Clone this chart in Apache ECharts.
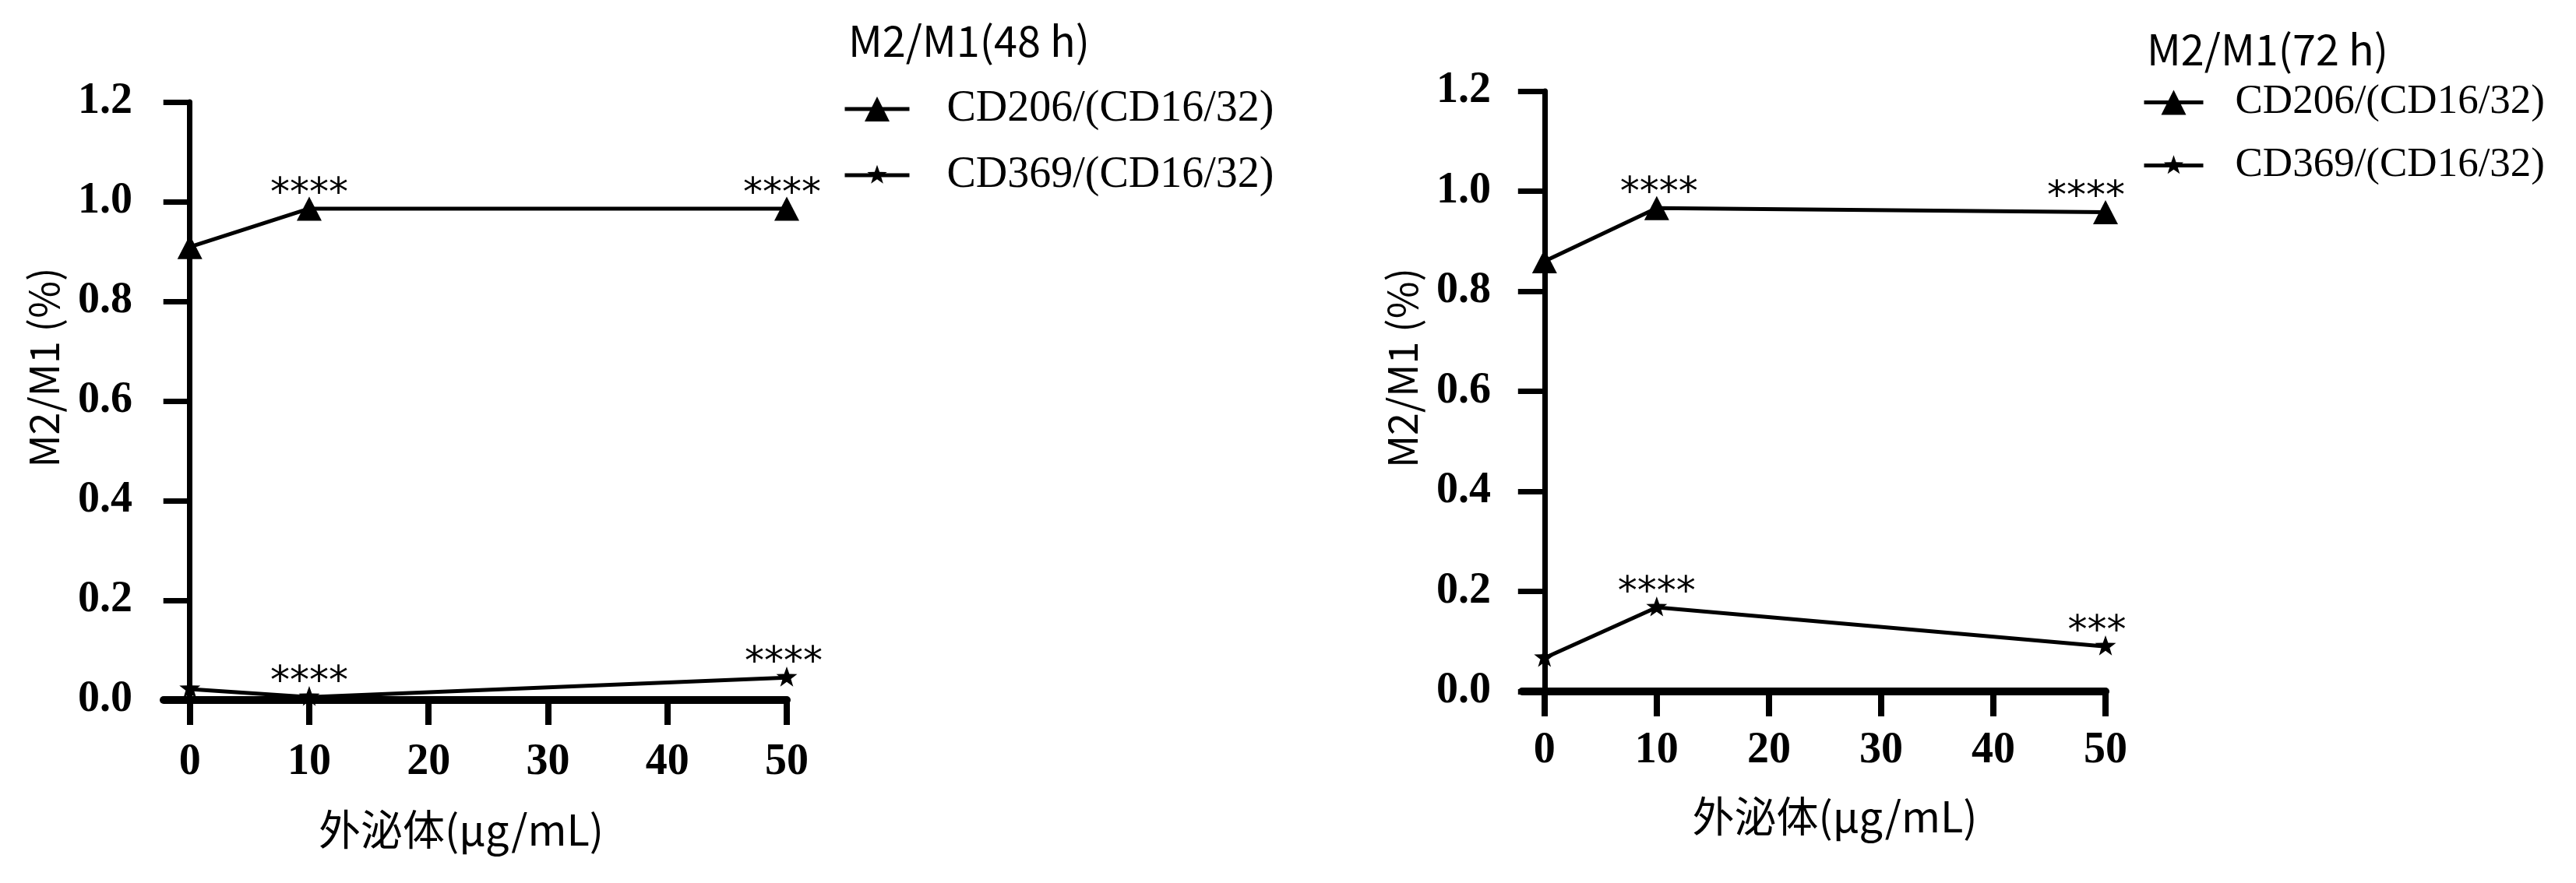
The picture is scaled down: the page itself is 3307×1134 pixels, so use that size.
<!DOCTYPE html>
<html>
<head>
<meta charset="utf-8">
<title>M2/M1</title>
<script src="https://cdn.jsdelivr.net/npm/echarts@6/dist/echarts.min.js"></script>
<style>
  html, body { margin: 0; padding: 0; background: #fff; }
  #chart { width: 3307px; height: 1134px; }
</style>
</head>
<body>
<div id="chart"></div>
<script>
// 数据
const doses = [0, 10, 50]
const xTicks = [0, 10, 20, 30, 40, 50]
const seriesNames = ['CD206/(CD16/32)', 'CD369/(CD16/32)']
const panelTitles = ['M2/M1(48 h)', 'M2/M1(72 h)']

const cd206_48h = [0.909, 0.986, 0.986]
const cd369_48h = [0.022, 0.006, 0.045]
const cd206_72h = [0.86, 0.966, 0.958]
const cd369_72h = [0.067, 0.168, 0.09]

const sig206_48h = ['', '****', '****']
const sig369_48h = ['', '****', '****']
const sig206_72h = ['', '****', '****']
const sig369_72h = ['', '****', '***']

const serif = "'Liberation Serif', 'Times New Roman', serif"
const sans = "'Noto Sans CJK SC', 'Noto Sans', sans-serif"
// 五角星 (四周留白, 让星形比三角形小一点)
const starPath = 'path://M-10,-10M110,110M50,0L61.76,33.82L97.55,34.55L69.02,56.18L79.39,90.45L50,70L20.61,90.45L30.98,56.18L2.45,34.55L38.24,33.82Z'

const panels = [
  {
    grid: { left: 210, top: 131, width: 800, height: 768 },
    xMin: -2.2, labelMargin: 53, nameGap: 139, namePad: [0, 36, 0, 0], yNamePad: [0, 0, 0, 86],
    title: { left: 1089, top: 22 },
    legend: { left: 1082, top: 112, itemWidth: 83, itemGap: 29, fontSize: 56, textPad: 43 },
    values: [cd206_48h, cd369_48h], sigs: [sig206_48h, sig369_48h],
    nudge: [[0, 0, -6], [0, 0, -4]]
  },
  {
    grid: { left: 1954, top: 117, width: 749, height: 771 },
    xMin: -2, labelMargin: 49, nameGap: 133, namePad: [0, 0, 0, 54], yNamePad: [0, 0, 0, 60],
    title: { left: 2756, top: 33 },
    legend: { left: 2750, top: 105, itemWidth: 76, itemGap: 28, fontSize: 53, textPad: 36 },
    values: [cd206_72h, cd369_72h], sigs: [sig206_72h, sig369_72h],
    nudge: [[0, 3, -25], [0, 0, -11]]
  }
]

const symbols = ['triangle', starPath]
const symbolSizes = [[32, 31], 34]

const option = {
  animation: false,
  backgroundColor: '#fff',
  title: panels.map((p, i) => ({
    text: panelTitles[i],
    left: p.title.left,
    top: p.title.top,
    padding: 0,
    textStyle: { fontFamily: sans, fontSize: 54, lineHeight: 60, fontWeight: 'normal', color: '#000' }
  })),
  legend: panels.map(p => ({
    orient: 'vertical',
    left: p.legend.left,
    top: p.legend.top,
    padding: 0,
    itemWidth: p.legend.itemWidth,
    itemHeight: 40,
    itemGap: p.legend.itemGap,
    selectedMode: false,
    data: seriesNames,
    lineStyle: { color: '#000', width: 5 },
    itemStyle: { color: '#000' },
    textStyle: {
      fontFamily: serif,
      fontSize: p.legend.fontSize,
      lineHeight: p.legend.fontSize,
      color: '#000',
      padding: [0, 0, 0, p.legend.textPad]
    }
  })),
  grid: panels.map(p => p.grid),
  xAxis: panels.map((p, i) => ({
    gridIndex: i,
    type: 'value',
    min: p.xMin,
    max: 50,
    name: '外泌体(μg/mL)',
    nameLocation: 'middle',
    nameGap: p.nameGap,
    nameTextStyle: { fontFamily: sans, fontSize: 54, color: '#000', padding: p.namePad },
    axisLine: { show: true, onZero: true, lineStyle: { color: '#000', width: 10 } },
    axisTick: { show: true, length: 32, customValues: xTicks, lineStyle: { color: '#000', width: 8 } },
    axisLabel: {
      customValues: xTicks,
      margin: p.labelMargin,
      fontFamily: serif,
      fontWeight: 'bold',
      fontSize: 56,
      color: '#000'
    },
    splitLine: { show: false }
  })),
  yAxis: panels.map((p, i) => ({
    gridIndex: i,
    type: 'value',
    min: 0,
    max: 1.2,
    interval: 0.2,
    name: 'M2/M1 (%)',
    nameLocation: 'middle',
    nameRotate: 90,
    nameGap: 128,
    nameTextStyle: { fontFamily: sans, fontSize: 52, color: '#000', padding: p.yNamePad },
    axisLine: { show: true, onZero: true, lineStyle: { color: '#000', width: 7 } },
    axisTick: { show: true, length: 34, lineStyle: { color: '#000', width: 7 } },
    axisLabel: {
      margin: 40,
      fontFamily: serif,
      fontWeight: 'bold',
      fontSize: 56,
      color: '#000',
      formatter: v => v.toFixed(1)
    },
    splitLine: { show: false }
  })),
  series: []
}

panels.forEach((p, i) => {
  seriesNames.forEach((name, k) => {
    const vals = p.values[k]
    const sig = p.sigs[k]
    option.series.push({
      type: 'line',
      name: name,
      xAxisIndex: i,
      yAxisIndex: i,
      symbol: symbols[k],
      symbolSize: symbolSizes[k],
      clip: false,
      z: 3,
      lineStyle: { color: '#000', width: 5 },
      itemStyle: { color: '#000' },
      data: doses.map((d, j) => ({
        value: [d, vals[j]],
        label: { offset: [p.nudge[k][j], -18] }
      })),
      label: {
        show: true,
        position: 'inside',
        formatter: q => sig[q.dataIndex],
        fontFamily: "'DejaVu Sans', sans-serif",
        fontSize: 50,
        color: '#000'
      }
    })
  })
})

const myChart = echarts.init(document.getElementById('chart'))
myChart.setOption(option)
</script>
</body>
</html>
